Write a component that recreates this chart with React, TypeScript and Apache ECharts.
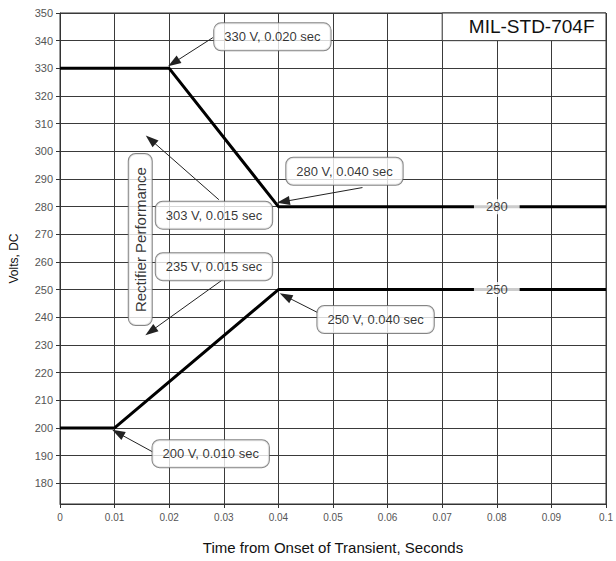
import React, { useEffect, useRef } from "react";
import * as echarts from "echarts";

const xTicks = [0, 0.01, 0.02, 0.03, 0.04, 0.05, 0.06, 0.07, 0.08, 0.09, 0.1];
const yTicks = [180, 190, 200, 210, 220, 230, 240, 250, 260, 270, 280, 290, 300, 310, 320, 330, 340, 350];

const upperLimit: [number, number][] = [[0, 330], [0.02, 330], [0.04, 280], [0.1, 280]];
const lowerLimit: [number, number][] = [[0, 200], [0.01, 200], [0.04, 250], [0.1, 250]];

const levelLabels = [
  { name: "280", value: [0.08, 280] },
  { name: "250", value: [0.08, 250] },
];

const callouts = [
  { name: "330 V, 0.020 sec", value: [0.0389, 341.4] },
  { name: "280 V, 0.040 sec", value: [0.0521, 292.8] },
  { name: "303 V, 0.015 sec", value: [0.0282, 276.9] },
  { name: "235 V, 0.015 sec", value: [0.0282, 258.3] },
  { name: "250 V, 0.040 sec", value: [0.0578, 239.2] },
  { name: "200 V, 0.010 sec", value: [0.0276, 190.7] },
];

const verticalNote = { name: "Rectifier Performance", value: [0.0147, 268.1] };

const arrows: [number, number][][] = [
  [[0.028, 341.1], [0.0208, 332.0]],
  [[0.0554, 286.9], [0.0409, 281.8]],
  [[0.0291, 282.5], [0.0166, 304.2]],
  [[0.0298, 253.6], [0.0166, 234.9]],
  [[0.0472, 241.7], [0.0413, 247.6]],
  [[0.017, 191.3], [0.0106, 198.2]],
];

const titleBox = { name: "MIL-STD-704F", from: [0.07, 350], to: [0.1, 340] };

const FONT = "'Liberation Sans', Arial, sans-serif";

export default function App() {
  const ref = useRef<HTMLDivElement>(null);
  useEffect(() => {
    if (!ref.current) return;
    const chart = echarts.init(ref.current, null, { renderer: "svg" });
    const calloutLabel = {
      show: true,
      position: "inside",
      formatter: "{b}",
      color: "#000",
      fontFamily: FONT,
      fontSize: 13,
      backgroundColor: "#fff",
      borderColor: "#666",
      borderWidth: 1,
      borderRadius: 7,
      padding: [7, 10],
    };
    chart.setOption({
      animation: false,
      backgroundColor: "#fff",
      textStyle: { fontFamily: FONT },
      grid: { left: 59, right: 10, top: 13, bottom: 57, containLabel: false, show: true, borderColor: "#333", borderWidth: 1 },
      xAxis: {
        type: "value",
        min: 0,
        max: 0.1,
        interval: 0.01,
        name: "Time from Onset of Transient, Seconds",
        nameLocation: "middle",
        nameGap: 36,
        nameTextStyle: { fontSize: 15, color: "#111", fontFamily: FONT },
        axisLine: { show: true, lineStyle: { color: "#333", width: 1 } },
        axisTick: { show: true, length: 4, lineStyle: { color: "#333" } },
        axisLabel: {
          color: "#555",
          fontSize: 10,
          margin: 8,
          fontFamily: FONT,
          formatter: (v: number) => (v === 0 ? "0" : String(+v.toFixed(2))),
        },
        splitLine: { show: true, lineStyle: { color: "#3a3a3a", width: 1 } },
      },
      yAxis: {
        type: "value",
        min: 172.5,
        max: 350,
        name: "Volts, DC",
        nameLocation: "middle",
        nameGap: 40,
        nameTextStyle: { fontSize: 12, color: "#111", fontFamily: FONT },
        axisLine: { show: true, lineStyle: { color: "#333", width: 1 } },
        axisTick: { show: true, length: 4, customValues: yTicks, lineStyle: { color: "#333" } },
        axisLabel: { color: "#555", fontSize: 11, margin: 7, fontFamily: FONT, customValues: yTicks },
        splitLine: { show: true, lineStyle: { color: "#3a3a3a", width: 1 } },
      },
      series: [
        {
          type: "line",
          data: upperLimit,
          symbol: "none",
          lineStyle: { color: "#000", width: 3 },
          z: 3,
          markArea: {
            silent: true,
            itemStyle: { color: "#fff", borderColor: "#333", borderWidth: 1 },
            label: {
              show: true,
              position: "insideRight",
              distance: 12,
              color: "#111",
              fontSize: 19,
              fontFamily: FONT,
            },
            data: [[{ name: titleBox.name, coord: titleBox.from }, { coord: titleBox.to }]],
          },
        },
        {
          type: "line",
          data: lowerLimit,
          symbol: "none",
          lineStyle: { color: "#000", width: 3 },
          z: 3,
          markLine: {
            silent: true,
            symbol: ["none", "triangle"],
            symbolSize: [9, 13],
            label: { show: false },
            lineStyle: { type: "solid", color: "#222", width: 1 },
            data: arrows.map(([a, b]) => [{ coord: a }, { coord: b }]),
          },
        },
        {
          type: "scatter",
          data: levelLabels,
          symbolSize: 1,
          itemStyle: { color: "rgba(0,0,0,0)" },
          z: 5,
          label: {
            show: true,
            position: "inside",
            formatter: "{b}",
            color: "#111",
            fontSize: 13,
            fontFamily: FONT,
            backgroundColor: "#fff",
            padding: [1, 12],
          },
        },
        {
          type: "scatter",
          data: callouts,
          symbolSize: 1,
          itemStyle: { color: "rgba(0,0,0,0)" },
          z: 6,
          label: calloutLabel,
        },
        {
          type: "scatter",
          data: [verticalNote],
          symbolSize: 1,
          itemStyle: { color: "rgba(0,0,0,0)" },
          z: 6,
          label: { ...calloutLabel, rotate: 90, fontSize: 15, padding: [4, 13] },
        },
      ],
    });
    return () => chart.dispose();
  }, []);
  return <div ref={ref} style={{ position: "fixed", left: 0, top: 0, width: 616, height: 561 }} />;
}
